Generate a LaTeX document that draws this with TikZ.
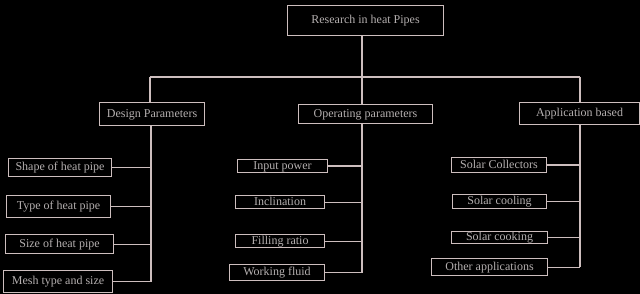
\documentclass[tikz,border=0pt]{standalone}
\usepackage{fontspec}
\setmainfont{Liberation Serif}
\begin{document}
\begin{tikzpicture}[x=1pt,y=-1pt,
  ln/.style={draw=lnc, line width=1.1pt},
  bx/.style={ln, rectangle, inner sep=0pt, anchor=north west, text=txc, font=\fontsize{12}{13}\selectfont, text height=8pt, text depth=2pt},
]
\definecolor{lnc}{RGB}{205,190,190}
\definecolor{txc}{RGB}{180,175,175}
\fill[black] (0,0) rectangle (640,294);
\useasboundingbox (0,0) rectangle (640,294);
% top
\node[bx, minimum width=156pt, minimum height=30pt] (top) at (287,5) {Research in heat Pipes};
% categories
\node[bx, minimum width=105pt, minimum height=23pt] (dp) at (99,102) {Design Parameters};
\node[bx, minimum width=134pt, minimum height=19pt] (op) at (298,104) {Operating parameters};
\node[bx, minimum width=120pt, minimum height=22pt] (ap) at (519,102) {Application based};
% design children
\node[bx, minimum width=103pt, minimum height=18pt] (d1) at (8,158) {Shape of heat pipe};
\node[bx, minimum width=104pt, minimum height=22pt] (d2) at (6,195) {Type of heat pipe};
\node[bx, minimum width=108pt, minimum height=19pt] (d3) at (5,234) {Size of heat pipe};
\node[bx, minimum width=109pt, minimum height=22pt] (d4) at (3,270) {Mesh type and size};
% operating children
\node[bx, minimum width=90pt, minimum height=13pt] (o1) at (237,159) {Input power};
\node[bx, minimum width=89pt, minimum height=13pt] (o2) at (235,195) {Inclination};
\node[bx, minimum width=89pt, minimum height=13pt] (o3) at (235,234) {Filling ratio};
\node[bx, minimum width=95pt, minimum height=16pt] (o4) at (229,264) {Working fluid};
% application children
\node[bx, minimum width=95pt, minimum height=15pt] (a1) at (451,157) {Solar Collectors};
\node[bx, minimum width=94pt, minimum height=14pt] (a2) at (452,194) {Solar cooling};
\node[bx, minimum width=96pt, minimum height=12pt] (a3) at (451,231) {Solar cooking};
\node[bx, minimum width=116pt, minimum height=17pt] (a4) at (431,258) {Other applications};
% bus coordinates
\coordinate (hb) at (362,77);
\coordinate (hl) at (150,77);
\coordinate (hr) at (580,77);
\coordinate (dx) at (151,0);
\coordinate (ox) at (362,0);
\coordinate (ax) at (580,0);
% top connectors
\draw[ln] (top.south -| hb) -- (hb);
\draw[ln] (hl) -- (hr);
\draw[ln] (hl) -- (hl |- dp.north);
\draw[ln] (hb) -- (hb |- op.north);
\draw[ln] (hr) -- (hr |- ap.north);
% design bus
\draw[ln] (dx |- dp.south) -- (dx |- d4.east);
\foreach \n in {d1,d2,d3,d4} \draw[ln] (\n.east) -- (\n.east -| dx);
% operating bus
\draw[ln] (ox |- op.south) -- (ox |- o4.east);
\foreach \n in {o1,o2,o3,o4} \draw[ln] (\n.east) -- (\n.east -| ox);
% application bus
\draw[ln] (ax |- ap.south) -- (ax |- a4.east);
\foreach \n in {a1,a2,a3,a4} \draw[ln] (\n.east) -- (\n.east -| ax);
\end{tikzpicture}
\end{document}
